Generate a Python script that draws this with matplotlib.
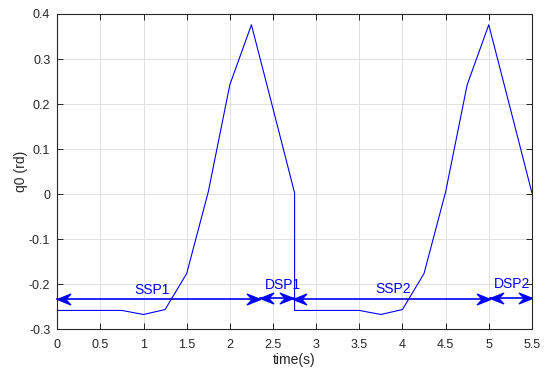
import matplotlib
matplotlib.use('Agg')
import numpy as np
import matplotlib.pyplot as plt
from matplotlib.path import Path

# datos de la curva q0 (dos ciclos)
time = [0.0, 0.25, 0.5, 0.75, 1.0, 1.25, 1.5, 1.75, 2.0, 2.25, 2.5, 2.75,
        2.75, 3.0, 3.25, 3.5, 3.75, 4.0, 4.25, 4.5, 4.75, 5.0, 5.25, 5.5]
q0 = [-0.258, -0.258, -0.258, -0.258, -0.267, -0.256, -0.176, 0.005, 0.243, 0.376, 0.19, 0.003,
      -0.258, -0.258, -0.258, -0.258, -0.267, -0.256, -0.176, 0.005, 0.243, 0.376, 0.19, 0.003]

# fases (flechas dobles)
phase_names = ['SSP1', 'DSP1', 'SSP2', 'DSP2']
phase_start = [0.0, 2.35, 2.73, 5.01]
phase_end = [2.35, 2.73, 5.01, 5.5]
phase_y = [-0.233, -0.231, -0.232, -0.231]
label_x = [1.1, 2.61, 3.89, 5.27]
label_y = [-0.213, -0.202, -0.21, -0.2]

plt.rcParams['font.family'] = ['Liberation Sans', 'DejaVu Sans']

fig = plt.figure(figsize=(5.45, 3.68), dpi=100)
ax = fig.add_axes([0.105, 0.105, 0.871, 0.857])

ax.plot(time, q0, color='#0000ff', linewidth=0.8)

# cabeza de flecha tipo "vback2"
head_r = Path([(0, 0), (-1, 0.4), (-0.62, 0), (-1, -0.4), (0, 0)],
              [Path.MOVETO, Path.LINETO, Path.LINETO, Path.LINETO, Path.CLOSEPOLY])
head_l = Path([(0, 0), (1, 0.4), (0.62, 0), (1, -0.4), (0, 0)],
              [Path.MOVETO, Path.LINETO, Path.LINETO, Path.LINETO, Path.CLOSEPOLY])

for name, x0, x1, y, lx, ly in zip(phase_names, phase_start, phase_end, phase_y, label_x, label_y):
    ax.plot([x0, x1], [y, y], color='#0000ff', linewidth=1.2, clip_on=False)
    ax.plot([x0], [y], marker=head_l, markersize=19, color='#0000ff', clip_on=False)
    ax.plot([x1], [y], marker=head_r, markersize=19, color='#0000ff', clip_on=False)
    ax.text(lx, ly, name, color='#0000ff', fontsize=10, ha='center', va='center')

ax.set_xlim(0, 5.5)
ax.set_ylim(-0.3, 0.4)
ax.set_xticks(np.arange(0, 5.51, 0.5))
ax.set_xticklabels(['0', '0.5', '1', '1.5', '2', '2.5', '3', '3.5', '4', '4.5', '5', '5.5'])
ax.set_yticks(np.arange(-0.3, 0.41, 0.1))
ax.set_yticklabels(['-0.3', '-0.2', '-0.1', '0', '0.1', '0.2', '0.3', '0.4'])
ax.grid(True, color='#dcdcdc', linewidth=0.6)
ax.tick_params(direction='in', top=True, right=True, length=4, width=0.7,
               labelsize=9, labelcolor='#262626', color='#262626')
ax.tick_params(axis='x', pad=7)
ax.tick_params(axis='y', pad=5)
for s in ax.spines.values():
    s.set_color('#262626')
    s.set_linewidth(0.8)

ax.set_xlabel('time(s)', fontsize=10, color='#262626', labelpad=1.5)
ax.set_ylabel('q0 (rd)', fontsize=10, color='#262626', labelpad=1)

fig.savefig('out.png', dpi=100)
plt.close(fig)
